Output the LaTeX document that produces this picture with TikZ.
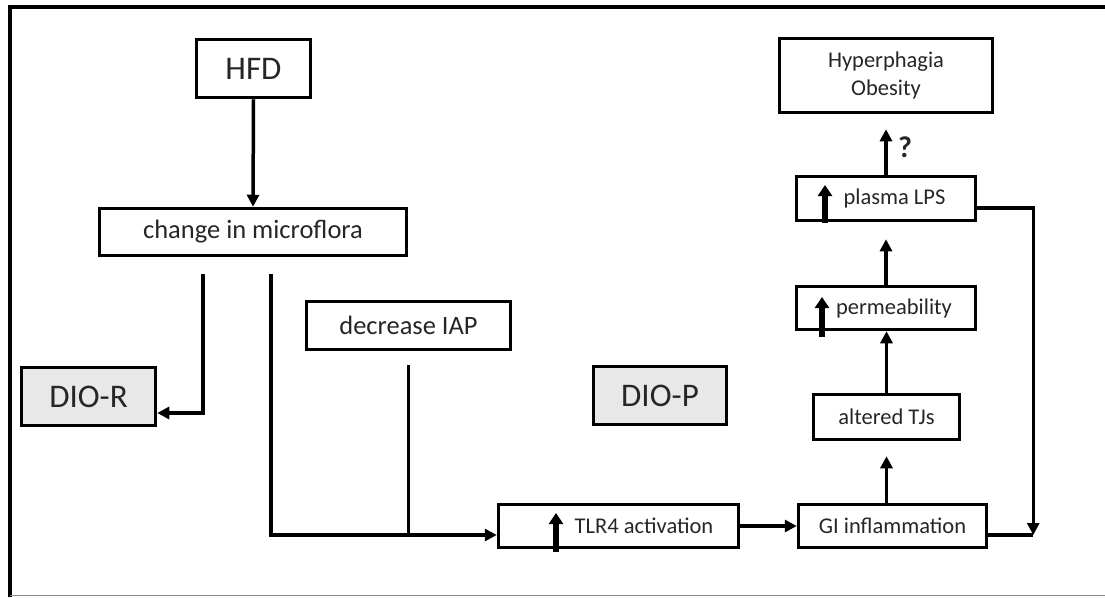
\documentclass[tikz,border=0pt]{standalone}
\usepackage{fontspec}
\setmainfont{Carlito}
\usetikzlibrary{arrows.meta}

\begin{document}
\begin{tikzpicture}[x=1pt,y=-1pt,
		box/.style={draw, line width=3.5pt, inner sep=0pt, align=center, text=black!85},
		dio/.style={box, fill=black!9, font=\szbig},
		arr/.style={line width=3.5pt, -{Triangle[length=12pt,width=12pt]}},
		lin/.style={line width=3.5pt},
		upsym/.style={line width=5.5pt, -{Triangle[length=11pt,width=14pt]}}]
    		\newcommand{\szbig}{\fontsize{33}{36}\selectfont}
    		\newcommand{\szmid}{\fontsize{26.5}{30}\selectfont}
    		\newcommand{\szsmall}{\fontsize{22.5}{28}\selectfont}

    		\useasboundingbox (0,0) rectangle (1105,597);

    		% frame
    		\draw[line width=4.5pt] (10,597) -- (10,7) -- (1105,7);
    		\draw[black!45, line width=1pt] (10,595) -- (1105,595);

    		% boxes
    		\node[box, minimum width=114pt, minimum height=58pt, font=\szbig] (hfd) at (253.5,68.5) {HFD};
    		\node[box, minimum width=307pt, minimum height=47pt, font=\szmid] (micro) at (253,232) {change in microflora};
    		\node[box, minimum width=204pt, minimum height=48pt, font=\szmid] (iap) at (408.5,325.5) {decrease IAP};
    		\node[dio, minimum width=134pt, minimum height=58pt] (dior) at (88.5,396.5) {DIO-R};
    		\node[dio, minimum width=133pt, minimum height=58pt] (diop) at (660,395.5) {DIO-P};
    		\node[box, minimum width=240pt, minimum height=43pt, font=\szsmall] (tlr) at (618.5,526) {\hspace*{51pt}TLR4 activation};
    		\node[box, minimum width=188pt, minimum height=43pt, font=\szsmall] (gi) at (892.5,526) {GI inflammation};
    		\node[box, minimum width=146pt, minimum height=45pt, font=\szsmall] (tjs) at (886.5,417) {altered TJs};
    		\node[box, minimum width=179pt, minimum height=43pt, font=\szsmall] (perm) at (886,308) {\hspace*{16pt}permeability};
    		\node[box, minimum width=179pt, minimum height=44pt, font=\szsmall] (lps) at (886,198.5) {\hspace*{17pt}plasma LPS};
    		\node[box, minimum width=213pt, minimum height=74pt, font=\szsmall] (hyp) at (886,75.5) {Hyperphagia\\Obesity};
    		\node[font=\fontsize{30}{32}\selectfont\bfseries, text=black!85] (q) at (905,147) {?};

    		% increase marks
    		\draw[upsym] (556,552) -- (556,513);
    		\draw[upsym] (822,337) -- (822,297);
    		\draw[upsym] (825,223) -- (825,185);

    		% loose ends
    		\coordinate (rl) at ([xshift=-50pt,yshift=-17pt]micro.south);
    		\coordinate (rp) at ([xshift=18pt,yshift=-17pt]micro.south);
    		\coordinate (ia) at ([yshift=-14pt]iap.south);
    		\coordinate (tlrin) at ([yshift=-9pt]tlr.west);
    		\coordinate (rc) at ([xshift=45pt,yshift=-9pt]gi.east);

    		% arrows
    		\draw[arr] (hfd.south) -- (micro.north);
    		\draw[arr] (rl) |- ([yshift=-16.5pt]dior.east);
    		\draw[arr] (rp) |- (tlrin);
    		\draw[lin] (ia) -- (ia |- tlrin);
    		\draw[arr] (tlr.east) -- (gi.west);
    		\draw[arr] (tjs.south |- gi.north) -- ([yshift=-15pt]tjs.south);
    		\draw[arr] (tjs.north) -- (tjs.north |- perm.south);
    		\draw[arr] (perm.north) -- ([yshift=-17pt]lps.south);
    		\draw[arr] (lps.north) -- ([yshift=-15pt]hyp.south);
    		\draw[arr] ([yshift=-9.5pt]lps.east) -| (rc);
    		\draw[lin] ([yshift=-9pt]gi.east) -- (rc);

\end{tikzpicture}
\end{document}
